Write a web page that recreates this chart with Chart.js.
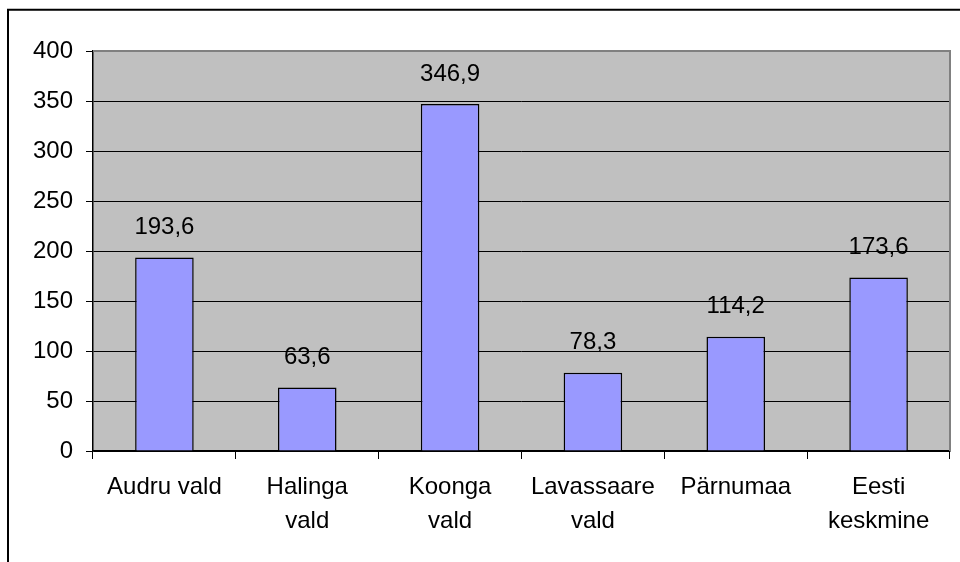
<!DOCTYPE html>
<html>
<head>
<meta charset="utf-8">
<script src="https://cdn.jsdelivr.net/npm/chart.js@4"></script>
<style>
html,body{margin:0;padding:0;background:#fff;}
#wrap{position:relative;width:960px;height:562px;}
</style>
</head>
<body>
<div id="wrap"><canvas id="c" width="960" height="562"></canvas></div>
<script>
const categories = [
  ["Audru vald"],
  ["Halinga", "vald"],
  ["Koonga", "vald"],
  ["Lavassaare", "vald"],
  ["Pärnumaa"],
  ["Eesti", "keskmine"]
];
const values = [193.6, 63.6, 346.9, 78.3, 114.2, 173.6];
const valueLabels = ["193,6", "63,6", "346,9", "78,3", "114,2", "173,6"];
const yTicks = [0, 50, 100, 150, 200, 250, 300, 350, 400];

const FONT = "'Liberation Sans', Arial, sans-serif";

const decor = {
  id: 'decor',
  beforeDraw(chart) {
    const ctx = chart.ctx, a = chart.chartArea;
    ctx.save();
    ctx.fillStyle = '#ffffff';
    ctx.fillRect(0, 0, chart.width, chart.height);
    ctx.fillStyle = '#C0C0C0';
    ctx.fillRect(a.left, a.top, a.right - a.left, a.bottom - a.top);
    ctx.strokeStyle = '#000';
    ctx.lineWidth = 2;
    ctx.beginPath();
    ctx.moveTo(8, chart.height);
    ctx.lineTo(8, 9.7);
    ctx.lineTo(chart.width, 9.7);
    ctx.stroke();
    ctx.restore();
  },
  afterDatasetsDraw(chart) {
    const ctx = chart.ctx, a = chart.chartArea;
    ctx.save();
    // plot border top/right gray
    ctx.strokeStyle = '#808080';
    ctx.lineWidth = 2;
    ctx.beginPath();
    ctx.moveTo(a.left, a.top);
    ctx.lineTo(a.right, a.top);
    ctx.lineTo(a.right, a.bottom);
    ctx.stroke();
    // value labels
    const meta = chart.getDatasetMeta(0);
    ctx.fillStyle = '#000';
    ctx.font = "24px " + FONT;
    ctx.textAlign = 'center';
    ctx.textBaseline = 'middle';
    meta.data.forEach((bar, i) => {
      ctx.fillText(valueLabels[i], bar.x, bar.y - 30);
    });
    ctx.restore();
  }
};

new Chart(document.getElementById('c'), {
  type: 'bar',
  data: {
    labels: categories,
    datasets: [{
      data: values,
      backgroundColor: '#9999FF',
      borderColor: '#000000',
      borderWidth: 1.5,
      categoryPercentage: 1.0,
      barPercentage: 0.41
    }]
  },
  options: {
    responsive: false,
    animation: false,
    devicePixelRatio: 1,
    layout: { padding: { left: 0, right: 10, top: 51, bottom: 0 } },
    plugins: { legend: { display: false }, tooltip: { enabled: false } },
    scales: {
      x: {
        afterFit(s) { s.height = 111; },
        grid: {
          offset: true,
          drawOnChartArea: false,
          drawTicks: true,
          tickLength: 8,
          color: '#000'
        },
        border: { color: '#000', width: 1.5 },
        ticks: {
          color: '#000',
          font: { family: FONT, size: 24, lineHeight: 1.4 },
          padding: 12,
          maxRotation: 0,
          autoSkip: false
        }
      },
      y: {
        min: 0,
        max: 400,
        afterFit(s) { s.width = 93; },
        afterBuildTicks(s) { s.ticks = yTicks.map(v => ({ value: v })); },
        grid: {
          color: ctx => (ctx.tick && ctx.tick.value === 400) ? '#808080' : '#000',
          lineWidth: 1,
          tickLength: 7,
          drawTicks: true,
          tickColor: '#000'
        },
        border: { color: '#000', width: 1.5 },
        ticks: {
          color: '#000',
          font: { family: FONT, size: 24 },
          padding: 13,
          callback: v => String(v)
        }
      }
    }
  },
  plugins: [decor]
});
</script>
</body>
</html>
